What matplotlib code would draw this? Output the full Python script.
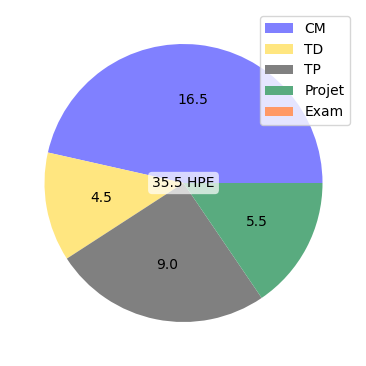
import matplotlib
matplotlib.use("Agg")
import matplotlib.pyplot as plt

categories = ["CM", "TD", "TP", "Projet", "Exam"]
hours = [16.5, 4.5, 9.0, 5.5, 0.0]
colors = ["#8080ff", "#ffe680", "#808080", "#59ab7f", "#ff9966"]
total = sum(hours)

fig = plt.figure(figsize=(3.66, 3.66), dpi=100)
ax = fig.add_axes([0, 0, 1, 1])

def fmt(p):
    v = p * total / 100
    return f"{v:.1f}" if v > 0 else ""

wedges, texts, autotexts = ax.pie(hours, colors=colors, autopct=fmt, startangle=0)
ax.set_aspect("equal")
s = 139.0
ax.set_xlim(-183.5 / s, (366 - 183.5) / s)
ax.set_ylim(-183 / s, (366 - 183) / s)
ax.axis("off")

ax.text(0, 0, f"{total:.1f} HPE", ha="center", va="center", fontsize=10,
        bbox=dict(boxstyle="round", facecolor="white", edgecolor="none", alpha=0.7))

fig.legend(wedges, categories, loc="upper right",
           bbox_to_anchor=(350 / 366, 1 - 16 / 366), borderaxespad=0)

fig.savefig("out.png", dpi=100)
